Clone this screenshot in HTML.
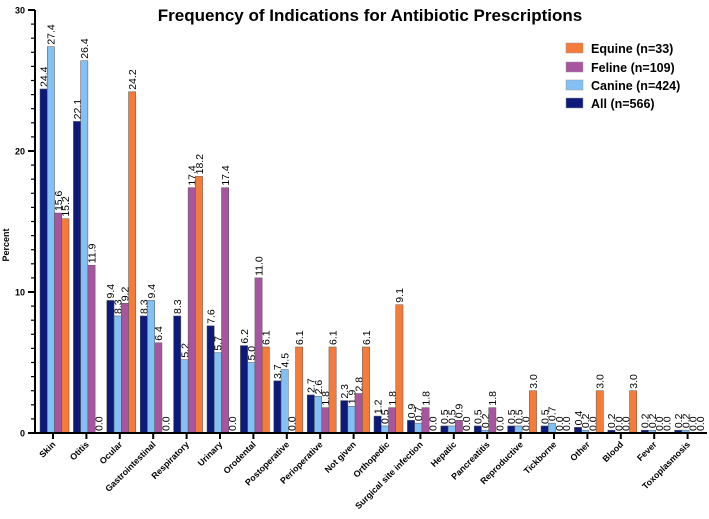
<!DOCTYPE html>
<html><head><meta charset="utf-8"><style>
body{margin:0;background:#fff;width:709px;height:514px;overflow:hidden;font-family:"Liberation Sans",Arial,sans-serif}
svg text{font-family:"Liberation Sans",Arial,sans-serif}
</style></head><body>
<svg id="chart" width="709" height="514" xmlns="http://www.w3.org/2000/svg">
<text x="370" y="21" text-anchor="middle" font-size="17" font-weight="bold">Frequency of Indications for Antibiotic Prescriptions</text>
<text transform="translate(9,245) rotate(-90)" text-anchor="middle" font-size="9" font-weight="bold">Percent</text>
<g id="plot"></g>
<g font-size="12.5" font-weight="bold">
<rect x="566" y="43" width="17" height="10" fill="#f47b3a" stroke="#999" stroke-width="0.5"/><text x="591" y="53">Equine (n=33)</text>
<rect x="566" y="62" width="17" height="10" fill="#a855a0" stroke="#999" stroke-width="0.5"/><text x="591" y="72">Feline (n=109)</text>
<rect x="566" y="80" width="17" height="10" fill="#83c1f5" stroke="#999" stroke-width="0.5"/><text x="591" y="90">Canine (n=424)</text>
<rect x="566" y="98" width="17" height="10" fill="#0d1a7a" stroke="#999" stroke-width="0.5"/><text x="591" y="108">All (n=566)</text>
</g>
</svg>
<script>
const categories=["Skin","Otitis","Ocular","Gastrointestinal","Respiratory","Urinary","Orodental","Postoperative","Perioperative","Not given","Orthopedic","Surgical site infection","Hepatic","Pancreatitis","Reproductive","Tickborne","Other","Blood","Fever","Toxoplasmosis"];
const allVals=[24.4,22.1,9.4,8.3,8.3,7.6,6.2,3.7,2.7,2.3,1.2,0.9,0.5,0.5,0.5,0.5,0.4,0.2,0.2,0.2];
const canineVals=[27.4,26.4,8.3,9.4,5.2,5.7,5.0,4.5,2.6,1.9,0.5,0.7,0.5,0.2,0.5,0.7,0.2,0.0,0.2,0.2];
const felineVals=[15.6,11.9,9.2,6.4,17.4,17.4,11.0,0.0,1.8,2.8,1.8,1.8,0.9,1.8,0.0,0.0,0.0,0.0,0.0,0.0];
const equineVals=[15.2,0.0,24.2,0.0,18.2,0.0,6.1,6.1,6.1,6.1,9.1,0.0,0.0,0.0,3.0,0.0,3.0,3.0,0.0,0.0];
const yTicks=[0,10,20,30];
const NS="http://www.w3.org/2000/svg";
const g=document.getElementById('plot');
const x0=35,y0=433,yTop=10,yMax=30;
const y=v=>y0-(v/yMax)*(y0-yTop);
const xc=i=>53+i*33.4;
const bw=7.25;
function mk(t,a){const e=document.createElementNS(NS,t);for(const k in a)e.setAttribute(k,a[k]);g.appendChild(e);return e;}
const series=[{v:allVals,c:"#0d1a7a",n:"all"},{v:canineVals,c:"#83c1f5",n:"canine"},{v:felineVals,c:"#a855a0",n:"feline"},{v:equineVals,c:"#f47b3a",n:"equine"}];
categories.forEach((cat,i)=>{
  series.forEach((s,j)=>{
    const val=s.v[i];const bx=xc(i)-13+j*bw;
    const r=mk('rect',{x:bx,y:y(val),width:bw,height:y0-y(val),fill:s.c,stroke:"#555","stroke-width":0.5});
    
    
    const t=mk('text',{transform:`translate(${bx+bw/2+3.8},${y(val)-2}) rotate(-90)`,"font-size":10.5});
    t.textContent=val.toFixed(1);
    
    
  });
  const tk=mk('line',{x1:xc(i),x2:xc(i),y1:y0,y2:y0+6,stroke:"#000","stroke-width":2});
  
  
  const lb=mk('text',{transform:`translate(${xc(i)+3},${y0+12}) rotate(-45)`,"text-anchor":"end","font-size":8.8,"font-weight":"bold"});
  lb.textContent=cat;
  
  
});
const ax=mk('line',{x1:x0,x2:707,y1:y0,y2:y0,stroke:"#000","stroke-width":2});


const ay=mk('line',{x1:x0,x2:x0,y1:yTop,y2:y0+1,stroke:"#000","stroke-width":2});


for(let v=0;v<=yMax;v++){
  const major=v%10===0;
  const m=mk('line',{x1:x0-(major?7:4),x2:x0,y1:y(v),y2:y(v),stroke:"#000","stroke-width":major?2:1.2});
  
  
}
yTicks.forEach(v=>{
  const t=mk('text',{x:x0-10,y:y(v)+3.5,"text-anchor":"end","font-size":9,"font-weight":"bold"});
  t.textContent=v;
  
  
});
</script>
</body></html>
